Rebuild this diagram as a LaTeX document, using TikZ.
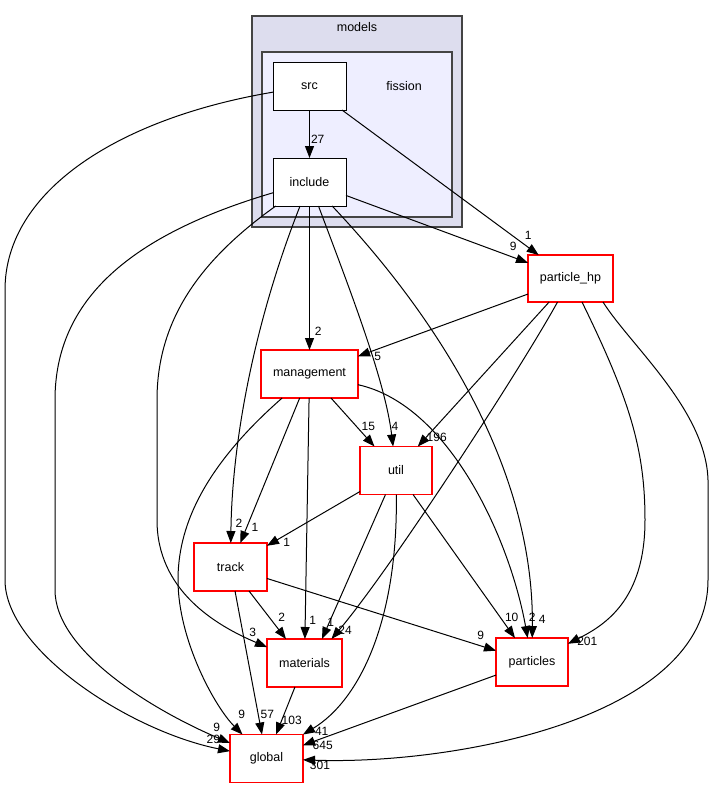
\documentclass[tikz,border=0pt]{standalone}
\usepackage{fontspec}
\setmainfont{Liberation Sans}
\usetikzlibrary{arrows.meta}
\definecolor{clusterouter}{HTML}{DDDDEE}
\definecolor{clusterinner}{HTML}{EEEEFF}
\definecolor{clusterline}{HTML}{444444}
\begin{document}
\begin{tikzpicture}[x=1pt,y=-1pt,every node/.style={font=\fontsize{12.5}{15}\selectfont, inner sep=0pt, outer sep=0pt},
  dir/.style={draw=black, line width=1pt, fill=white, minimum width=73pt, minimum height=48pt},
  reddir/.style={dir, draw=red, line width=1.2pt},
  dep/.style={line width=1pt, -{Triangle[length=12pt,width=9pt]}},
  num/.style={font=\fontsize{12}{14}\selectfont}]

\useasboundingbox (0,0) rectangle (715,788);
\draw[clusterline, fill=clusterouter, line width=1.8pt] (252,16) rectangle (462,227);
\draw[clusterline, fill=clusterinner, line width=1.8pt] (262,52) rectangle (452,217);
\node (models) at (357,27) {models};
\node (fission) at (404,86) {fission};

\node[dir] (src) at (309.5,86) {src};
\node[dir] (inc) at (309.5,182) {include};
\node[reddir, minimum width=85pt, minimum height=47pt] (phd) at (570.5,278.5) {particle\_hp};
\node[reddir, minimum width=97pt] (mgmt) at (309.5,374) {management};
\node[reddir, minimum width=72pt] (util) at (396,470.5) {util};
\node[reddir] (track) at (230.5,567) {track};
\node[reddir, minimum width=75pt] (mat) at (304.5,663) {materials};
\node[reddir, minimum width=72pt] (parts) at (532,662) {particles};
\node[reddir] (glob) at (266.5,758.5) {global};

\draw[dep] (src) -- (inc);
\draw[dep] (src) -- (phd);
\draw[dep] (src) .. controls (120,118) and (5,190) .. (5,290) -- (5,580) .. controls (5,650) and (130,731) .. (glob);
\draw[dep] (inc) -- (phd);
\draw[dep] (inc) -- (mgmt);
\draw[dep] (inc) .. controls (350,290) and (385,380) .. (util);
\draw[dep] (inc) .. controls (440,320) and (534,470) .. (parts);
\draw[dep] (inc) .. controls (255,320) and (232,440) .. (track);
\draw[dep] (inc) .. controls (200,260) and (157,320) .. (157,400) -- (157,520) .. controls (157,590) and (215,625) .. (mat);
\draw[dep] (inc) .. controls (130,235) and (55,300) .. (55,400) -- (55,590) .. controls (55,650) and (150,709) .. (glob);
\draw[dep] (phd) -- (mgmt);
\draw[dep] (phd) -- (util);
\draw[dep] (phd) .. controls (520,370) and (390,570) .. ([xshift=27pt]mat.north);
\draw[dep] (phd) .. controls (630,400) and (645,450) .. (645,520) .. controls (645,600) and (605,625) .. (parts);
\draw[dep] ([xshift=-10pt]phd.south east) .. controls (630,345) and (706,410) .. (708,480) -- (708,580) .. controls (708,720) and (450,765) .. (glob);
\draw[dep] (mgmt) -- (util);
\draw[dep] (mgmt) -- (track);
\draw[dep] (mgmt) -- (mat);
\draw[dep] (mgmt) .. controls (200,470) and (178,530) .. (178,580) .. controls (178,640) and (215,707) .. (glob);
\draw[dep] (mgmt) .. controls (450,405) and (510,540) .. (parts);
\draw[dep] (util) -- (track);
\draw[dep] (util) -- ([xshift=17.5pt]mat.north);
\draw[dep] (util) -- (parts);
\draw[dep] (util) .. controls (398,620) and (360,700) .. (glob.north east);
\draw[dep] (track) -- (mat);
\draw[dep] (track) -- (glob);
\draw[dep] (track) -- (parts);
\draw[dep] (mat) -- (glob);
\draw[dep] (parts) -- (glob);

\node[num] (n27) at (317.7,139.3) {27};
\node[num] (n1a) at (528.3,235.7) {1};
\node[num] (n9a) at (513.3,246.7) {9};
\node[num] (n2a) at (318.3,331.7) {2};
\node[num] (n5) at (377.7,356.7) {5};
\node[num] (n15) at (368.3,426.7) {15};
\node[num] (n4a) at (395,426.7) {4};
\node[num] (n196) at (436.7,437.7) {196};
\node[num] (n2b) at (239,523.3) {2};
\node[num] (n1b) at (255,527.7) {1};
\node[num] (n1c) at (286.7,542.7) {1};
\node[num] (n10) at (511.7,617.7) {10};
\node[num] (n2c) at (532.3,617.7) {2};
\node[num] (n4b) at (542.3,619.3) {4};
\node[num] (n9b) at (480.7,635.7) {9};
\node[num] (n201) at (587.3,641.7) {201};
\node[num] (n2d) at (281.7,617.7) {2};
\node[num] (n1d) at (312.7,620) {1};
\node[num] (n1e) at (330.7,622.7) {1};
\node[num] (n24) at (345,630) {24};
\node[num] (n3) at (252.7,632.3) {3};
\node[num] (n9c) at (241.7,714) {9};
\node[num] (n57) at (267.3,714) {57};
\node[num] (n103) at (291.7,720) {103};
\node[num] (n41) at (321.7,731.7) {41};
\node[num] (n645) at (322.7,745) {645};
\node[num] (n301) at (320,765.7) {301};
\node[num] (n9d) at (216.7,727) {9};
\node[num] (n29) at (213.3,739) {29};
\end{tikzpicture}
\end{document}
